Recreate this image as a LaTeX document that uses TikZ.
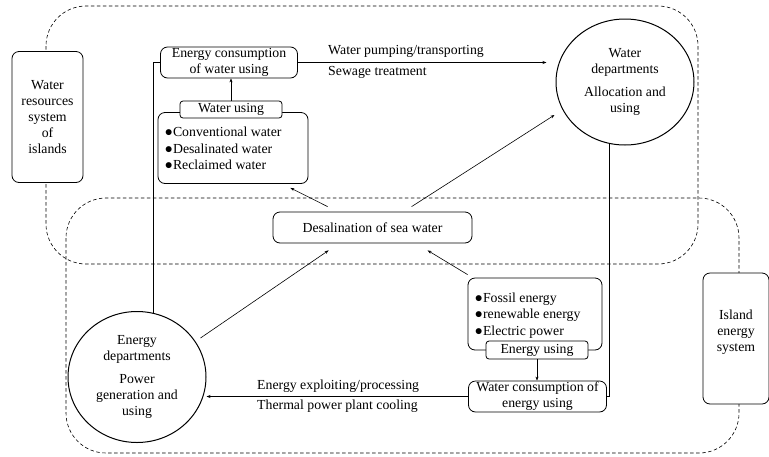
\documentclass[tikz,border=0pt]{standalone}
\usepackage{fontspec}
\setmainfont{Liberation Serif}
\usetikzlibrary{arrows.meta,shapes.geometric}
\begin{document}
\begin{tikzpicture}[x=1pt,y=-1pt,
  every node/.style={font=\fontsize{13.8}{16}\selectfont, inner sep=0pt},
  rbox/.style={draw, line width=0.8pt, rounded corners=7pt, fill=white, align=center},
  lbox/.style={draw, line width=0.8pt, rounded corners=3pt, fill=white, align=center},
  dept/.style={draw, ellipse, line width=1pt, fill=white, align=center},
  region/.style={draw, line width=0.6pt, dash pattern=on 3.5pt off 2.5pt, rounded corners=40pt},
  conn/.style={line width=0.6pt},
  arr/.style={conn, -{Stealth[length=4pt,width=3pt]}},
  lbl/.style={anchor=west},
]
\useasboundingbox (0,0) rectangle (769,456);
% dashed system regions
\draw[region] (46,6) rectangle (698,264);
\draw[region] (66,198) rectangle (739,453);

% system boxes
\node[rbox, minimum width=71pt, minimum height=131pt] (wr) at (47.5,117)
  {Water\\resources\\system\\of\\islands};
\node[rbox, minimum width=66pt, minimum height=131pt] (ies) at (736,338.5) {};
\node[align=center] (iest) at ([yshift=6pt]ies.center) {Island\\energy\\system};

% departments
\node[dept, minimum width=138pt, minimum height=126pt] (wd) at (625,82)
  {Water\\departments\\[7pt]Allocation and\\using};
\node[dept, minimum width=138pt, minimum height=131pt] (ed) at (137,377)
  {Energy\\departments\\[7pt]Power\\generation and\\using};

% water side
\node[rbox, minimum width=137pt, minimum height=31pt] (ecw) at (229,62.5)
  {Energy consumption\\of water using};
\node[rbox, minimum width=150pt, minimum height=71pt] (wub) at (233,148) {};
\node[lbox, minimum width=102pt, minimum height=17pt] (wul) at (231,109.5) {Water using};
\node[lbl] (w1) at (164.5,132) {●Conventional water};
\node[lbl] (w2) at (164.5,148.5) {●Desalinated water};
\node[lbl] (w3) at (164.5,165) {●Reclaimed water};

% desalination
\node[rbox, minimum width=199pt, minimum height=31pt] (desal) at (372.5,227.5)
  {Desalination of sea water};

% energy side
\node[rbox, minimum width=134pt, minimum height=72pt] (eub) at (535,314) {};
\node[lbox, minimum width=102pt, minimum height=18pt] (eul) at (537,350) {Energy using};
\node[lbl] (e1) at (474.5,299) {●Fossil energy};
\node[lbl] (e2) at (474.5,315.5) {●renewable energy};
\node[lbl] (e3) at (474.5,332) {●Electric power};
\node[rbox, minimum width=138pt, minimum height=31pt] (wce) at (537.5,396.5)
  {Water consumption of\\energy using};

% connectors
\draw[arr] (wul.north) -- (wul.north |- ecw.south);
\draw[conn] (ed.76) |- (ecw.west);
\draw[conn] (wd.-104) |- (wce.east);
\draw[arr, shorten >=9pt] (ecw.east) -- (ecw.east -| wd.west);
\node[lbl] (lwp) at (328,51) {Water pumping/transporting};
\node[lbl] (lst) at (328,72.5) {Sewage treatment};
\draw[arr] ([xshift=55pt,yshift=5pt]desal.north west) -- ([xshift=-18pt,yshift=-4pt]wub.south east);
\draw[arr] ([xshift=139pt,yshift=5pt]desal.north west) -- ([xshift=-1pt,yshift=-33pt]wd.west);
\draw[arr] ([xshift=-6pt,yshift=39pt]ed.east) -- ([xshift=56pt,yshift=-7pt]desal.south west);
\draw[arr] ([yshift=3pt]eub.north west) -- ([xshift=155pt,yshift=-7pt]desal.south west);
\draw[arr] (eul.south) -- (eul.south |- wce.north);
\draw[arr] (wce.west) -- (wce.west -| ed.east);
\node[lbl] (lee) at (257,386) {Energy exploiting/processing};
\node[lbl] (ltp) at (257,406.5) {Thermal power plant cooling};
\end{tikzpicture}
\end{document}
